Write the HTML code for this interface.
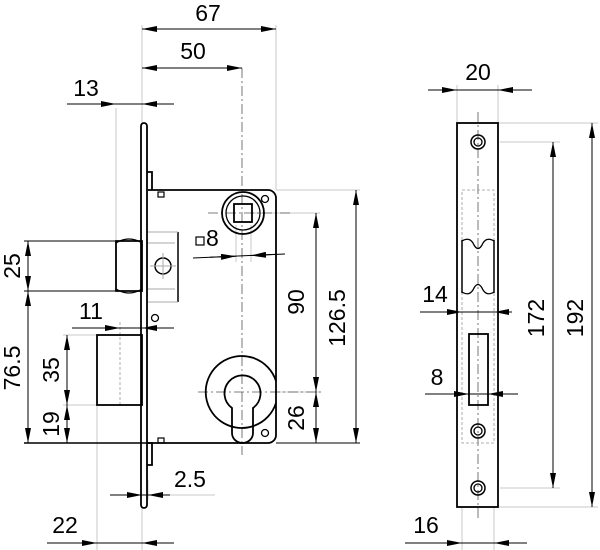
<!DOCTYPE html>
<html><head><meta charset="utf-8"><style>
html,body{margin:0;padding:0;background:#fff;}
svg{display:block;}
text{font-family:"Liberation Sans",Arial,sans-serif;font-size:23px;fill:#000;}
</style></head><body>
<svg width="600" height="550" viewBox="0 0 600 550" xmlns="http://www.w3.org/2000/svg">
<defs>
<marker id="a" viewBox="0 0 15 6" refX="15" refY="3" markerWidth="15" markerHeight="6" orient="auto" markerUnits="userSpaceOnUse"><path d="M0,0L15,3L0,6z" fill="#000"/></marker>
</defs>
<g fill="none" stroke="#c8c8c8" stroke-width="1">
<line x1="142" y1="25" x2="142" y2="123"/>
<line x1="276" y1="25" x2="276" y2="190"/>
<line x1="116" y1="108" x2="116" y2="241"/>
<line x1="97" y1="405" x2="97" y2="550"/>
<line x1="142" y1="508" x2="142" y2="550"/>
<line x1="63" y1="335" x2="97" y2="335"/>
<line x1="63" y1="405" x2="97" y2="405"/>
<line x1="250" y1="213" x2="320" y2="213"/>
<line x1="270" y1="392" x2="320" y2="392"/>
<line x1="276" y1="190" x2="360" y2="190"/>
<line x1="236" y1="225" x2="236" y2="262"/>
<line x1="251" y1="225" x2="251" y2="262"/>
<line x1="148" y1="480" x2="148" y2="500"/>
<line x1="170" y1="495" x2="215" y2="495"/>
<line x1="457" y1="85" x2="457" y2="123"/>
<line x1="498" y1="85" x2="498" y2="123"/>
<line x1="498" y1="123" x2="598" y2="123"/>
<line x1="498" y1="507" x2="598" y2="507"/>
<line x1="500" y1="142" x2="560" y2="142"/>
<line x1="500" y1="488" x2="560" y2="488"/>
<line x1="462" y1="507" x2="462" y2="550"/>
<line x1="494" y1="507" x2="494" y2="550"/>
</g>
<g fill="none" stroke="#555" stroke-width="0.8" stroke-dasharray="10,3,2,3">
<line x1="242" y1="68" x2="242" y2="455"/>
<line x1="208" y1="213" x2="290" y2="213"/>
<line x1="198" y1="392" x2="322" y2="392"/>
<line x1="478" y1="112" x2="478" y2="520"/>
</g>
<g fill="none" stroke="#999" stroke-width="0.8" stroke-dasharray="3,2">
<line x1="120" y1="322" x2="120" y2="405"/>
<rect x="462" y="190" width="32" height="253"/>
</g>
<g fill="none" stroke="#000" stroke-width="1.8">
<rect x="141" y="123" width="6" height="385" rx="3"/>
<path d="M147,172 H152 V190 M147,443 H152 V465 H147"/>
<path d="M148,190 H268 A8,8 0 0 1 276,198 V435 A8,8 0 0 1 268,443 H148"/>
<rect x="158" y="192" width="6" height="5" stroke-width="1.2"/>
<rect x="158" y="438" width="6" height="5" stroke-width="1.2"/>
<circle cx="243" cy="213" r="21"/>
<circle cx="243" cy="213" r="17" stroke-width="1.3"/>
<rect x="234" y="204" width="18" height="18"/>
<circle cx="265" cy="199" r="3.5" stroke-width="1.3"/>
<path d="M116,241 V291 H142 V241 Z"/>
<path d="M116,243 Q129,235 142,243 M116,289 Q129,297 142,289" stroke-width="1.3"/>
<line x1="178" y1="232" x2="178" y2="302" stroke-width="1.5"/>
<circle cx="163" cy="266" r="8" stroke-width="1.5"/>
<circle cx="155" cy="318" r="3.5" stroke-width="1.3"/>
<rect x="97" y="335" width="45" height="70"/>
<path d="M276,381 A36,36 0 1 0 276,403"/>
<path d="M232,408 A18,18 0 1 1 253,408 V433 A10.5,10 0 0 1 232,433 Z"/>
<circle cx="265" cy="433" r="3.5" stroke-width="1.3"/>
<rect x="457" y="123" width="41" height="384"/>
<rect x="469" y="334" width="19" height="71"/>
<path d="M462,240 V293 M494,240 V293" stroke-width="1.5"/>
<path d="M462,241 Q470,236 474,245 Q478,252 482,245 Q486,236 494,241 M462,292 Q470,297 474,288 Q478,281 482,288 Q486,297 494,292" stroke-width="1.3"/>
<circle cx="478" cy="142" r="7" stroke-width="1.5"/><circle cx="478" cy="142" r="4" stroke-width="1.3"/>
<circle cx="478" cy="431" r="7" stroke-width="1.5"/><circle cx="478" cy="431" r="4" stroke-width="1.3"/>
<circle cx="478" cy="488" r="7" stroke-width="1.5"/><circle cx="478" cy="488" r="4" stroke-width="1.3"/>
</g>
<g fill="none" stroke="#aaa" stroke-width="1">
<path d="M148,232 H178 M148,302 H178 M148,243 H175 M148,289 H175"/>
<line x1="163" y1="253" x2="163" y2="279"/><line x1="150" y1="266" x2="176" y2="266"/>
</g>
<g fill="none" stroke="#000" stroke-width="1">
<line x1="142" y1="29" x2="276" y2="29"/>
<line x1="209" y1="29" x2="142" y2="29" marker-end="url(#a)"/><line x1="209" y1="29" x2="276" y2="29" marker-end="url(#a)"/>
<line x1="142" y1="68" x2="242" y2="68"/>
<line x1="190" y1="68" x2="142" y2="68" marker-end="url(#a)"/><line x1="190" y1="68" x2="242" y2="68" marker-end="url(#a)"/>
<line x1="67" y1="104" x2="174" y2="104"/>
<line x1="90" y1="104" x2="116" y2="104" marker-end="url(#a)"/><line x1="170" y1="104" x2="142" y2="104" marker-end="url(#a)"/>
<line x1="24" y1="241" x2="116" y2="241"/><line x1="24" y1="291" x2="116" y2="291"/>
<line x1="28" y1="266" x2="28" y2="241" marker-end="url(#a)"/><line x1="28" y1="266" x2="28" y2="291" marker-end="url(#a)"/>
<line x1="28" y1="291" x2="28" y2="443"/>
<line x1="28" y1="370" x2="28" y2="291" marker-end="url(#a)"/><line x1="28" y1="370" x2="28" y2="443" marker-end="url(#a)"/>
<line x1="24" y1="443" x2="148" y2="443" stroke-width="1.5"/>
<line x1="276" y1="443" x2="360" y2="443"/>
<line x1="72" y1="328" x2="174" y2="328"/>
<line x1="100" y1="328" x2="120" y2="328" marker-end="url(#a)"/><line x1="170" y1="328" x2="142" y2="328" marker-end="url(#a)"/>
<line x1="67" y1="370" x2="67" y2="335" marker-end="url(#a)"/><line x1="67" y1="370" x2="67" y2="405" marker-end="url(#a)"/>
<line x1="67" y1="424" x2="67" y2="405" marker-end="url(#a)"/><line x1="67" y1="424" x2="67" y2="443" marker-end="url(#a)"/>
<line x1="110" y1="495" x2="170" y2="495"/>
<line x1="120" y1="495" x2="142" y2="495" marker-end="url(#a)"/><line x1="170" y1="495" x2="148" y2="495" marker-end="url(#a)"/>
<line x1="47" y1="543" x2="174" y2="543"/>
<line x1="75" y1="543" x2="97" y2="543" marker-end="url(#a)"/><line x1="172" y1="543" x2="142" y2="543" marker-end="url(#a)"/>
<line x1="193" y1="258" x2="285" y2="254"/>
<line x1="210" y1="257.3" x2="236" y2="256.2" marker-end="url(#a)"/><line x1="275" y1="254.4" x2="251" y2="255.5" marker-end="url(#a)"/>
<line x1="316" y1="300" x2="316" y2="213" marker-end="url(#a)"/><line x1="316" y1="300" x2="316" y2="392" marker-end="url(#a)"/>
<line x1="316" y1="418" x2="316" y2="392" marker-end="url(#a)"/><line x1="316" y1="418" x2="316" y2="443" marker-end="url(#a)"/>
<line x1="356" y1="316" x2="356" y2="190" marker-end="url(#a)"/><line x1="356" y1="316" x2="356" y2="443" marker-end="url(#a)"/>
<line x1="428" y1="90" x2="532" y2="90"/>
<line x1="437" y1="90" x2="457" y2="90" marker-end="url(#a)"/><line x1="520" y1="90" x2="498" y2="90" marker-end="url(#a)"/>
<line x1="420" y1="312" x2="512" y2="312"/>
<line x1="440" y1="312" x2="462" y2="312" marker-end="url(#a)"/><line x1="512" y1="312" x2="494" y2="312" marker-end="url(#a)"/>
<line x1="425" y1="394" x2="518" y2="394"/>
<line x1="448" y1="394" x2="469" y2="394" marker-end="url(#a)"/><line x1="508" y1="394" x2="488" y2="394" marker-end="url(#a)"/>
<line x1="553" y1="315" x2="553" y2="142" marker-end="url(#a)"/><line x1="553" y1="315" x2="553" y2="488" marker-end="url(#a)"/>
<line x1="592" y1="315" x2="592" y2="123" marker-end="url(#a)"/><line x1="592" y1="315" x2="592" y2="507" marker-end="url(#a)"/>
<line x1="405" y1="543" x2="527" y2="543"/>
<line x1="440" y1="543" x2="462" y2="543" marker-end="url(#a)"/><line x1="516" y1="543" x2="494" y2="543" marker-end="url(#a)"/>
</g>
<rect x="196" y="237" width="8" height="8" fill="none" stroke="#000" stroke-width="1.2"/>
<text x="206" y="246">8</text>
<g text-anchor="middle">
<text x="208" y="21">67</text>
<text x="193" y="59">50</text>
<text x="86" y="96">13</text>
<text x="91" y="319">11</text>
<text x="190" y="487">2.5</text>
<text x="65" y="533">22</text>
<text x="478" y="80">20</text>
<text x="435" y="302">14</text>
<text x="437" y="385">8</text>
<text x="426" y="533">16</text>
<text transform="translate(20,266) rotate(-90)">25</text>
<text transform="translate(20,368) rotate(-90)">76.5</text>
<text transform="translate(59,370) rotate(-90)">35</text>
<text transform="translate(59,424) rotate(-90)">19</text>
<text transform="translate(304,302) rotate(-90)">90</text>
<text transform="translate(304,418) rotate(-90)">26</text>
<text transform="translate(345,318) rotate(-90)">126.5</text>
<text transform="translate(544,318) rotate(-90)">172</text>
<text transform="translate(583,318) rotate(-90)">192</text>
</g>
</svg>
</body></html>
